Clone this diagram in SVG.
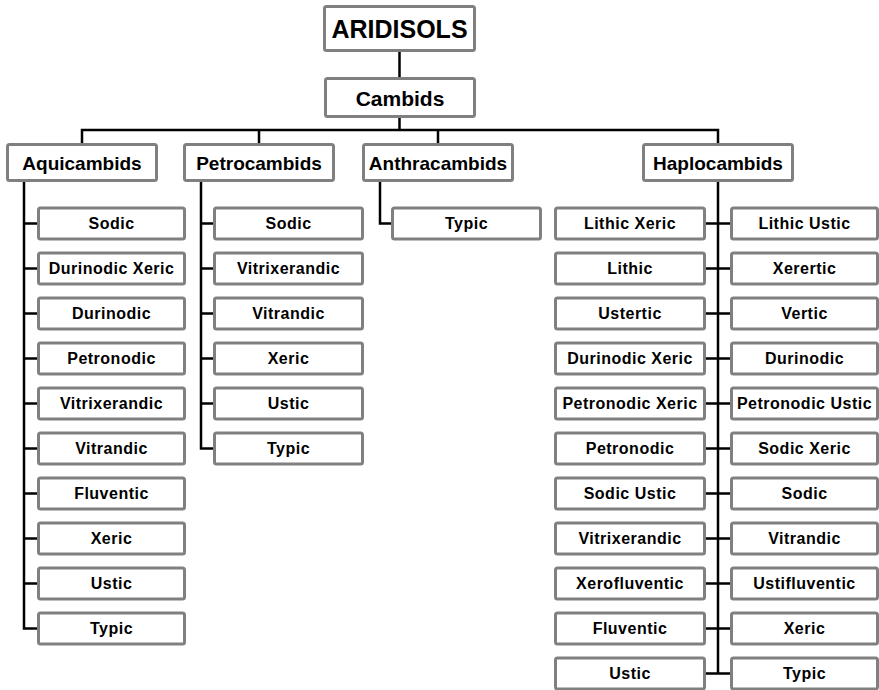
<svg xmlns="http://www.w3.org/2000/svg" width="879" height="690" viewBox="0 0 879 690">
<style>
.b{fill:#fff;stroke:#808080;stroke-width:3}
.t{font-family:"Liberation Sans",Arial,sans-serif;font-weight:bold;fill:#000;text-anchor:middle;dominant-baseline:central}
.l{font-size:16px;letter-spacing:0.5px}
.h{font-size:19px}
.c{fill:none;stroke:#000;stroke-width:2.5}
</style>
<rect width="879" height="690" fill="#fff"/>
<g id="connectors" class="c">
<path d="M399.5 52V78M399.5 118V130M82 144V130H718V144M259 130V144M438 130V144"/>
<path d="M24 182V628.5H38M24 223.5H38M24 268.5H38M24 313.5H38M24 358.5H38M24 403.5H38M24 448.5H38M24 493.5H38M24 538.5H38M24 583.5H38"/>
<path d="M201 182V448.5H214M201 223.5H214M201 268.5H214M201 313.5H214M201 358.5H214M201 403.5H214"/>
<path d="M380 182V223.5H392"/>
<path d="M718 182V673.5M705 223.5H731M705 268.5H731M705 313.5H731M705 358.5H731M705 403.5H731M705 448.5H731M705 493.5H731M705 538.5H731M705 583.5H731M705 628.5H731M705 673.5H731"/>
</g>
<g id="aridisols"><rect class="b" x="324.5" y="6.5" width="150" height="44" rx="2"/><text class="t" x="399.5" y="29" font-size="25">ARIDISOLS</text></g>
<g id="cambids"><rect class="b" x="325.5" y="78.5" width="149" height="38" rx="2"/><text class="t" x="400" y="98" font-size="21">Cambids</text></g>
<g id="aquicambids"><rect class="b" x="7.5" y="144.5" width="149" height="36" rx="2"/><text class="t h" x="82" y="163">Aquicambids</text></g>
<g id="petrocambids"><rect class="b" x="184.5" y="144.5" width="149" height="36" rx="2"/><text class="t h" x="259" y="163">Petrocambids</text></g>
<g id="anthracambids"><rect class="b" x="363.5" y="144.5" width="149" height="36" rx="2"/><text class="t h" x="438" y="163">Anthracambids</text></g>
<g id="haplocambids"><rect class="b" x="643.5" y="144.5" width="149" height="36" rx="2"/><text class="t h" x="718" y="163">Haplocambids</text></g>
<g id="aq-sodic"><rect class="b" x="38.5" y="208" width="146" height="31" rx="2"/><text class="t l" x="111.5" y="223.5">Sodic</text></g>
<g id="aq-durinodic-xeric"><rect class="b" x="38.5" y="253" width="146" height="31" rx="2"/><text class="t l" x="111.5" y="268.5">Durinodic Xeric</text></g>
<g id="aq-durinodic"><rect class="b" x="38.5" y="298" width="146" height="31" rx="2"/><text class="t l" x="111.5" y="313.5">Durinodic</text></g>
<g id="aq-petronodic"><rect class="b" x="38.5" y="343" width="146" height="31" rx="2"/><text class="t l" x="111.5" y="358.5">Petronodic</text></g>
<g id="aq-vitrixerandic"><rect class="b" x="38.5" y="388" width="146" height="31" rx="2"/><text class="t l" x="111.5" y="403.5">Vitrixerandic</text></g>
<g id="aq-vitrandic"><rect class="b" x="38.5" y="433" width="146" height="31" rx="2"/><text class="t l" x="111.5" y="448.5">Vitrandic</text></g>
<g id="aq-fluventic"><rect class="b" x="38.5" y="478" width="146" height="31" rx="2"/><text class="t l" x="111.5" y="493.5">Fluventic</text></g>
<g id="aq-xeric"><rect class="b" x="38.5" y="523" width="146" height="31" rx="2"/><text class="t l" x="111.5" y="538.5">Xeric</text></g>
<g id="aq-ustic"><rect class="b" x="38.5" y="568" width="146" height="31" rx="2"/><text class="t l" x="111.5" y="583.5">Ustic</text></g>
<g id="aq-typic"><rect class="b" x="38.5" y="613" width="146" height="31" rx="2"/><text class="t l" x="111.5" y="628.5">Typic</text></g>
<g id="pe-sodic"><rect class="b" x="214.5" y="208" width="148" height="31" rx="2"/><text class="t l" x="288.5" y="223.5">Sodic</text></g>
<g id="pe-vitrixerandic"><rect class="b" x="214.5" y="253" width="148" height="31" rx="2"/><text class="t l" x="288.5" y="268.5">Vitrixerandic</text></g>
<g id="pe-vitrandic"><rect class="b" x="214.5" y="298" width="148" height="31" rx="2"/><text class="t l" x="288.5" y="313.5">Vitrandic</text></g>
<g id="pe-xeric"><rect class="b" x="214.5" y="343" width="148" height="31" rx="2"/><text class="t l" x="288.5" y="358.5">Xeric</text></g>
<g id="pe-ustic"><rect class="b" x="214.5" y="388" width="148" height="31" rx="2"/><text class="t l" x="288.5" y="403.5">Ustic</text></g>
<g id="pe-typic"><rect class="b" x="214.5" y="433" width="148" height="31" rx="2"/><text class="t l" x="288.5" y="448.5">Typic</text></g>
<g id="an-typic"><rect class="b" x="392.5" y="208" width="148" height="31" rx="2"/><text class="t l" x="466.5" y="223.5">Typic</text></g>
<g id="ha-lithic-xeric"><rect class="b" x="555.5" y="208" width="149" height="31" rx="2"/><text class="t l" x="630" y="223.5">Lithic Xeric</text></g>
<g id="ha-lithic"><rect class="b" x="555.5" y="253" width="149" height="31" rx="2"/><text class="t l" x="630" y="268.5">Lithic</text></g>
<g id="ha-ustertic"><rect class="b" x="555.5" y="298" width="149" height="31" rx="2"/><text class="t l" x="630" y="313.5">Ustertic</text></g>
<g id="ha-durinodic-xeric"><rect class="b" x="555.5" y="343" width="149" height="31" rx="2"/><text class="t l" x="630" y="358.5">Durinodic Xeric</text></g>
<g id="ha-petronodic-xeric"><rect class="b" x="555.5" y="388" width="149" height="31" rx="2"/><text class="t l" x="630" y="403.5">Petronodic Xeric</text></g>
<g id="ha-petronodic"><rect class="b" x="555.5" y="433" width="149" height="31" rx="2"/><text class="t l" x="630" y="448.5">Petronodic</text></g>
<g id="ha-sodic-ustic"><rect class="b" x="555.5" y="478" width="149" height="31" rx="2"/><text class="t l" x="630" y="493.5">Sodic Ustic</text></g>
<g id="ha-vitrixerandic"><rect class="b" x="555.5" y="523" width="149" height="31" rx="2"/><text class="t l" x="630" y="538.5">Vitrixerandic</text></g>
<g id="ha-xerofluventic"><rect class="b" x="555.5" y="568" width="149" height="31" rx="2"/><text class="t l" x="630" y="583.5">Xerofluventic</text></g>
<g id="ha-fluventic"><rect class="b" x="555.5" y="613" width="149" height="31" rx="2"/><text class="t l" x="630" y="628.5">Fluventic</text></g>
<g id="ha-ustic"><rect class="b" x="555.5" y="658" width="149" height="31" rx="2"/><text class="t l" x="630" y="673.5">Ustic</text></g>
<g id="ha-lithic-ustic"><rect class="b" x="731.5" y="208" width="146" height="31" rx="2"/><text class="t l" x="804.5" y="223.5">Lithic Ustic</text></g>
<g id="ha-xerertic"><rect class="b" x="731.5" y="253" width="146" height="31" rx="2"/><text class="t l" x="804.5" y="268.5">Xerertic</text></g>
<g id="ha-vertic"><rect class="b" x="731.5" y="298" width="146" height="31" rx="2"/><text class="t l" x="804.5" y="313.5">Vertic</text></g>
<g id="ha-durinodic"><rect class="b" x="731.5" y="343" width="146" height="31" rx="2"/><text class="t l" x="804.5" y="358.5">Durinodic</text></g>
<g id="ha-petronodic-ustic"><rect class="b" x="731.5" y="388" width="146" height="31" rx="2"/><text class="t l" x="804.5" y="403.5">Petronodic Ustic</text></g>
<g id="ha-sodic-xeric"><rect class="b" x="731.5" y="433" width="146" height="31" rx="2"/><text class="t l" x="804.5" y="448.5">Sodic Xeric</text></g>
<g id="ha-sodic"><rect class="b" x="731.5" y="478" width="146" height="31" rx="2"/><text class="t l" x="804.5" y="493.5">Sodic</text></g>
<g id="ha-vitrandic"><rect class="b" x="731.5" y="523" width="146" height="31" rx="2"/><text class="t l" x="804.5" y="538.5">Vitrandic</text></g>
<g id="ha-ustifluventic"><rect class="b" x="731.5" y="568" width="146" height="31" rx="2"/><text class="t l" x="804.5" y="583.5">Ustifluventic</text></g>
<g id="ha-xeric"><rect class="b" x="731.5" y="613" width="146" height="31" rx="2"/><text class="t l" x="804.5" y="628.5">Xeric</text></g>
<g id="ha-typic"><rect class="b" x="731.5" y="658" width="146" height="31" rx="2"/><text class="t l" x="804.5" y="673.5">Typic</text></g>
</svg>
